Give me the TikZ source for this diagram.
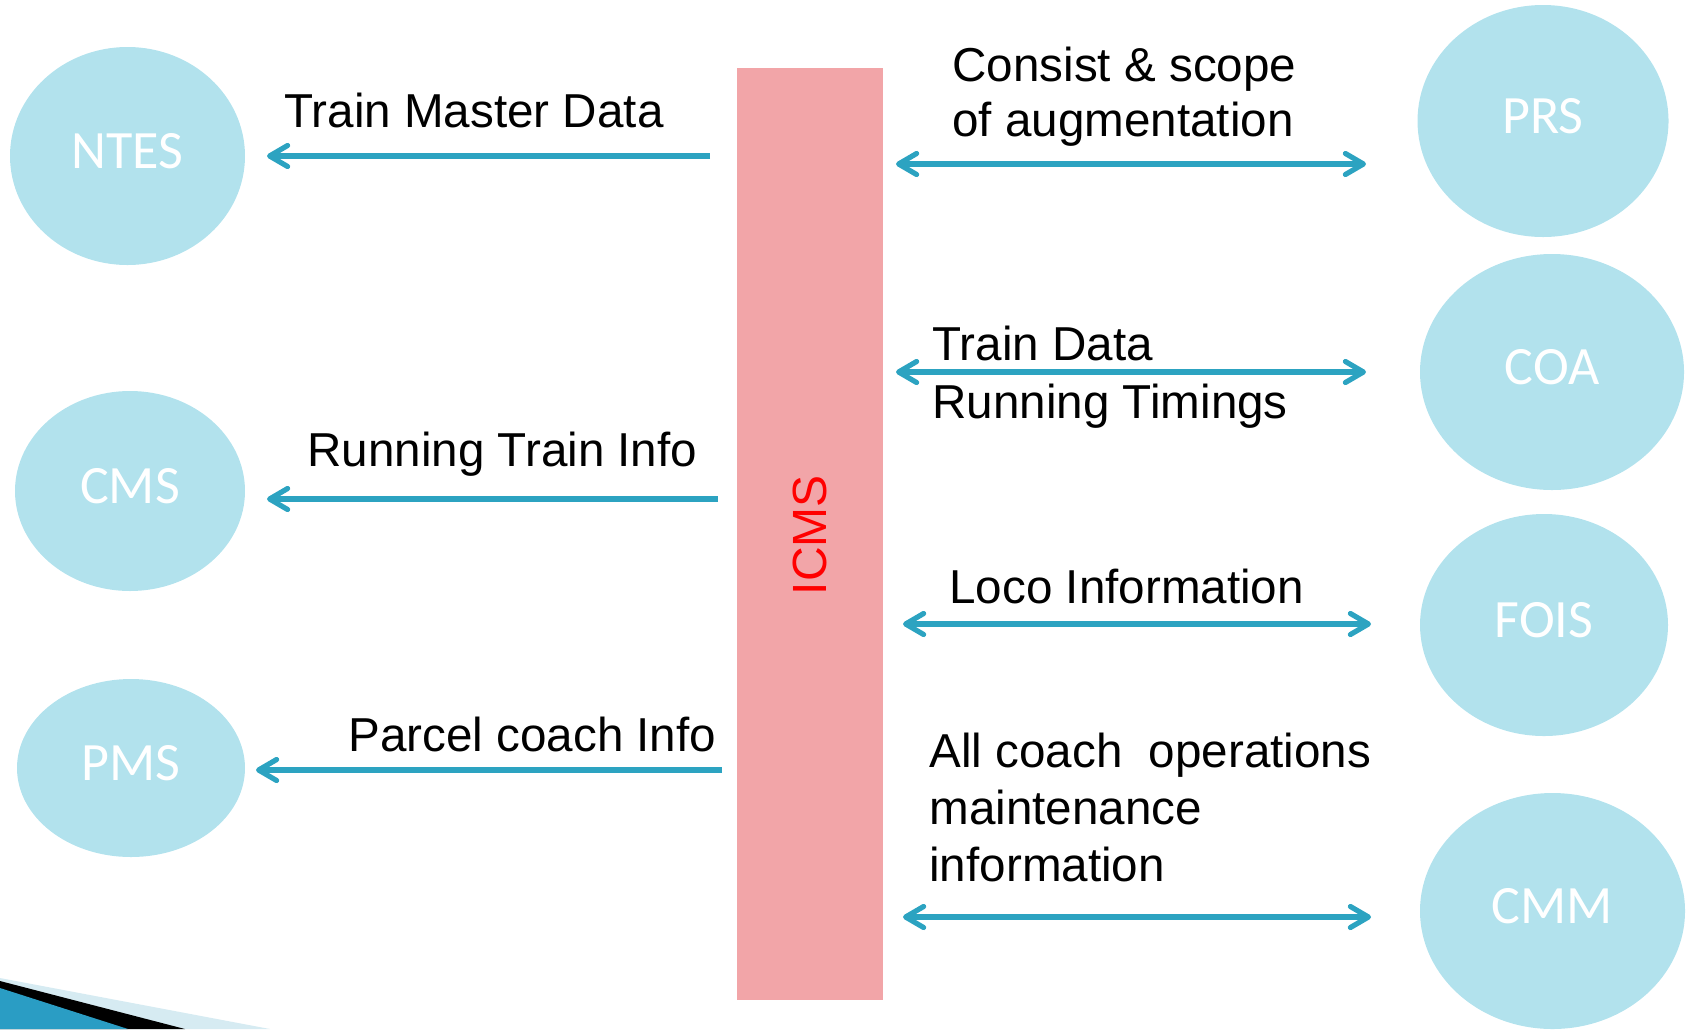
\documentclass[tikz,border=0pt]{standalone}
\usepackage{fontspec}
\setmainfont{Liberation Sans}
\newfontfamily\calib{Carlito}
\usetikzlibrary{shapes.geometric,arrows.meta}
\definecolor{ellfill}{RGB}{178,226,237}
\definecolor{barfill}{RGB}{242,165,168}
\definecolor{arrcol}{RGB}{44,163,193}
\definecolor{swlight}{RGB}{214,235,242}
\definecolor{swblue}{RGB}{42,157,196}
\tikzset{
  sys/.style={ellipse, fill=ellfill, inner sep=0pt, text=white, text depth=5pt,
    font=\calib\fontsize{27}{30}\selectfont},
  lbl/.style={anchor=base west, inner sep=0pt, font=\fontsize{23.8}{27}\selectfont},
  barb/.tip={Straight Barb[length=9pt,width=10.5pt,round]},
  flow/.style={draw=arrcol, line width=2.6pt, -barb},
  flowboth/.style={draw=arrcol, line width=2.6pt, barb-barb}
}
\begin{document}
\begin{tikzpicture}[x=0.5pt,y=-0.5pt]
\useasboundingbox (0,0) rectangle (1689,1029);
% central bar
\node[fill=barfill, inner sep=0pt, minimum width=73pt, minimum height=466pt] (icms) at (810,534) {};
\node[rotate=90, text=red, font=\fontsize{24}{28}\selectfont, inner sep=0pt] (icmslbl) at (810,535) {ICMS};
% systems
\node[sys, minimum width=117.5pt, minimum height=109pt] (ntes) at (127.5,156) {NTES};
\node[sys, minimum width=115pt, minimum height=100pt] (cms) at (130,491) {CMS};
\node[sys, minimum width=114pt, minimum height=89pt] (pms) at (131,768) {PMS};
\node[sys, minimum width=125.5pt, minimum height=116pt] (prs) at (1543,121) {PRS};
\node[sys, minimum width=132pt, minimum height=118pt] (coa) at (1552,372) {COA};
\node[sys, minimum width=124pt, minimum height=111pt] (fois) at (1544,625) {FOIS};
\node[sys, minimum width=132.5pt, minimum height=118pt] (cmm) at (1552.5,911) {CMM};
% arrow end points
\coordinate (a1s) at (710,156);  \coordinate (a1e) at (267,156);
\coordinate (a2s) at (896,164);  \coordinate (a2e) at (1366,164);
\coordinate (a3s) at (896,372);  \coordinate (a3e) at (1366,372);
\coordinate (a4s) at (718,499);  \coordinate (a4e) at (267,499);
\coordinate (a5s) at (903,624);  \coordinate (a5e) at (1371,624);
\coordinate (a6s) at (722,770);  \coordinate (a6e) at (256,770);
\coordinate (a7s) at (903,917);  \coordinate (a7e) at (1371,917);
\draw[flow] (a1s) -- (a1e);
\draw[flowboth] (a2s) -- (a2e);
\draw[flowboth] (a3s) -- (a3e);
\draw[flow] (a4s) -- (a4e);
\draw[flowboth] (a5s) -- (a5e);
\draw[flow] (a6s) -- (a6e);
\draw[flowboth] (a7s) -- (a7e);
% labels
\node[lbl] (t1) at (284,127) {Train Master Data};
\node[lbl] (t2a) at (952,81) {Consist \& scope};
\node[lbl] (t2b) at (952,136) {of augmentation};
\node[lbl] (t3a) at (932,360) {Train Data};
\node[lbl] (t3b) at (932,418) {Running Timings};
\node[lbl] (t4) at (307,466) {Running Train Info};
\node[lbl] (t5) at (949,603) {Loco Information};
\node[lbl] (t6) at (348,751) {Parcel coach Info};
\node[lbl] (t7a) at (929,767) {All coach\ \ operations};
\node[lbl] (t7b) at (929,824) {maintenance};
\node[lbl] (t7c) at (929,881) {information};
% bottom-left swoosh
\fill[swlight] (0,978) -- (270,1029) -- (0,1029) -- cycle;
\fill[black] (0,981) -- (185,1029) -- (0,1029) -- cycle;
\fill[swblue] (0,988) -- (128,1029) -- (0,1029) -- cycle;
\end{tikzpicture}
\end{document}
